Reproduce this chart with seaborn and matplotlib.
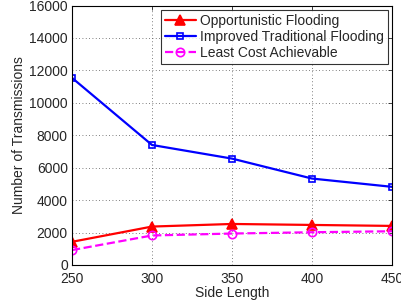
import pandas as pd
import seaborn as sns
import matplotlib
matplotlib.use("Agg")
import matplotlib.pyplot as plt

side_length = [250, 300, 350, 400, 450]
opportunistic = [1430, 2370, 2530, 2470, 2410]
improved_traditional = [11540, 7400, 6560, 5330, 4820]
least_cost = [920, 1820, 1940, 2020, 2080]

sns.set_style("white")
plt.rcParams['font.family'] = ['Liberation Sans', 'DejaVu Sans']
plt.rcParams['font.size'] = 10

fig = plt.figure(figsize=(4.01, 3.05), dpi=100)
ax = fig.add_axes([72 / 401, 1 - 265 / 305, 320 / 401, 259.5 / 305])

series = [
    ("Opportunistic Flooding", opportunistic, "red", "^", "-", "red", 6.5),
    ("Improved Traditional Flooding", improved_traditional, "blue", "s", "-", "none", 5),
    ("Least Cost Achievable", least_cost, "magenta", "o", "--", "none", 6),
]
for label, values, color, marker, ls, face, ms in series:
    sns.lineplot(x=side_length, y=values, ax=ax, label=label, color=color,
                 marker=marker, linestyle=ls, linewidth=1.6, markersize=ms,
                 markerfacecolor=face, markeredgecolor=color, markeredgewidth=1.2)

ax.set_xlim(250, 450)
ax.set_ylim(0, 16000)
ax.set_xticks(side_length)
ax.set_yticks(range(0, 16001, 2000))
ax.set_xlabel("Side Length", labelpad=0)
ax.set_ylabel("Number of Transmissions", labelpad=2)
ax.grid(True, linestyle=(0, (1, 3)), color="#555555", linewidth=0.6)
ax.tick_params(direction="in", top=True, right=True, length=3, width=0.6)
ax.tick_params(axis="x", pad=5)
ax.tick_params(axis="y", pad=3)
for sp in ax.spines.values():
    sp.set_linewidth(0.8)
    sp.set_color("black")

leg = ax.legend(loc="upper right", frameon=True, fancybox=False, borderpad=0.3,
                handlelength=2.2, handletextpad=0.3, labelspacing=0.15,
                borderaxespad=0.3, fontsize=10)
leg.get_frame().set_edgecolor("black")
leg.get_frame().set_linewidth(0.8)

fig.savefig("out.png", dpi=100)
